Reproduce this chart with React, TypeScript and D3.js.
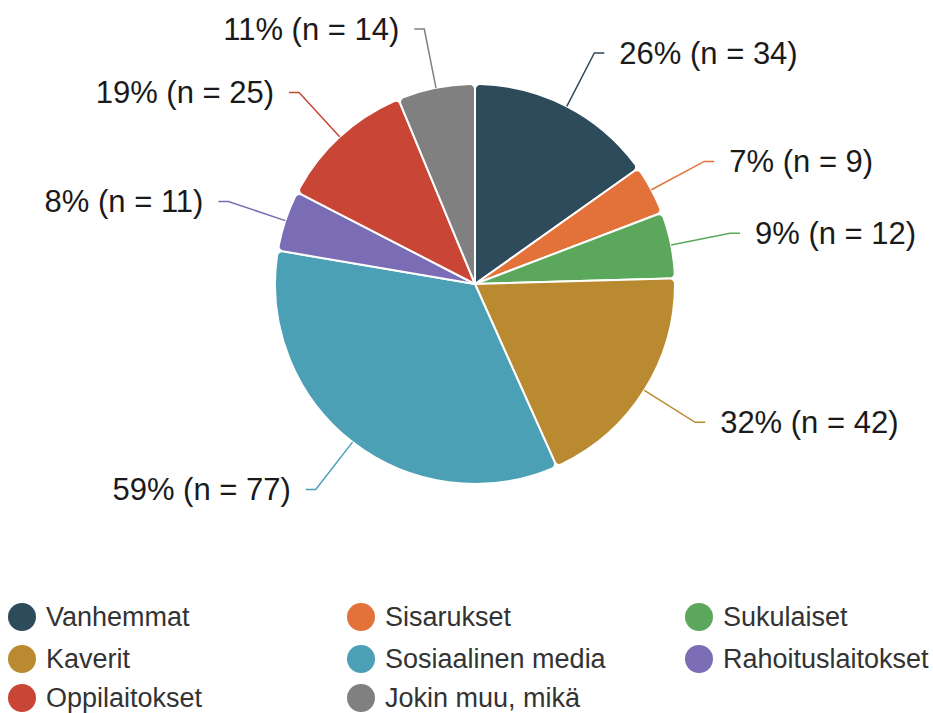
import React from 'react';
import * as d3 from 'd3';

const categories = ['Vanhemmat', 'Sisarukset', 'Sukulaiset', 'Kaverit', 'Sosiaalinen media', 'Rahoituslaitokset', 'Oppilaitokset', 'Jokin muu, mikä'];
const counts = [34, 9, 12, 42, 77, 11, 25, 14];
const respondents = 131;
const colors = ['#2e4b5b', '#e3723a', '#5ba85c', '#b98a30', '#4ca0b5', '#7a6db5', '#c94636', '#808080'];

const W = 933;
const H = 713;
const cx = 475;
const cy = 284;
const r = 200;
const elbowR = 260;

const App = () => {
  const pie = d3.pie<number>().sort(null).value(d => d);
  const arcs = pie(counts);
  const arc = d3.arc<d3.PieArcDatum<number>>().innerRadius(0).outerRadius(r).cornerRadius(5);

  const legendX = [22, 361, 699];
  const legendY = [617, 659, 698];

  return (
    <svg width={W} height={H} style={{ position: 'absolute', left: 0, top: 0, background: '#fff' }}>
      <g transform={`translate(${cx},${cy})`}>
        {arcs.map((a, i) => (
          <path key={i} d={arc(a) || ''} fill={colors[i]} stroke="#fff" strokeWidth={2} />
        ))}
        {arcs.map((a, i) => {
          const mid = (a.startAngle + a.endAngle) / 2;
          const sx = Math.sin(mid) * r, sy = -Math.cos(mid) * r;
          const ex = Math.sin(mid) * elbowR, ey = -Math.cos(mid) * elbowR;
          const right = Math.sin(mid) >= 0;
          const hx = ex + (right ? 10 : -10);
          const tx = hx + (right ? 15 : -15);
          const pct = Math.round((counts[i] / respondents) * 100);
          return (
            <g key={'l' + i}>
              <polyline points={`${sx},${sy} ${ex},${ey} ${hx},${ey}`} fill="none" stroke={colors[i]} strokeWidth={1.5} />
              <text x={tx} y={ey} dy="0.35em" textAnchor={right ? 'start' : 'end'}
                fontFamily="'Liberation Sans', Arial, sans-serif" fontSize={31} fill="#1a1a1a">
                {`${pct}% (n = ${counts[i]})`}
              </text>
            </g>
          );
        })}
      </g>
      <g>
        {categories.map((c, i) => {
          const x = legendX[i % 3];
          const y = legendY[Math.floor(i / 3)];
          return (
            <g key={'g' + i}>
              <circle cx={x} cy={y} r={14} fill={colors[i]} />
              <text x={x + 24} y={y} dy="0.35em" fontFamily="'Liberation Sans', Arial, sans-serif"
                fontSize={27} fill="#333">{c}</text>
            </g>
          );
        })}
      </g>
    </svg>
  );
};

export default App;
